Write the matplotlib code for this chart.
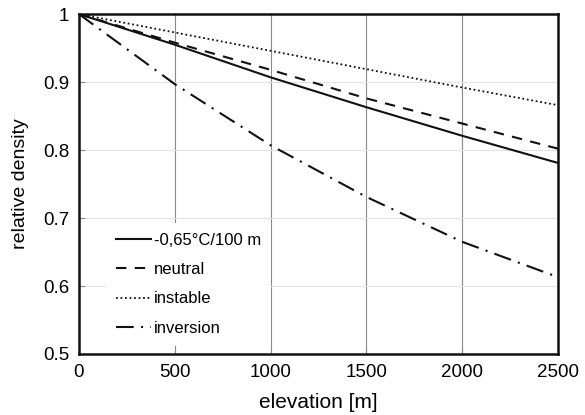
import matplotlib
matplotlib.use("Agg")
import matplotlib.pyplot as plt

plt.rcParams['font.family'] = ['Liberation Sans', 'DejaVu Sans']

# elevation [m]
elevation = [0, 500, 1000, 1500, 2000, 2500]

# relative density per atmosphere type
standard = [1.0, 0.955, 0.907, 0.863, 0.821, 0.781]
neutral = [1.0, 0.958, 0.918, 0.876, 0.839, 0.802]
instable = [1.0, 0.973, 0.946, 0.919, 0.892, 0.866]
inversion = [1.0, 0.897, 0.807, 0.731, 0.665, 0.613]

labels = ['-0,65°C/100 m', 'neutral', 'instable', 'inversion']

fig = plt.figure(figsize=(5.85, 4.15), dpi=100)
ax = fig.add_axes([0.135, 0.147, 0.819, 0.819])

lw = 1.5
ax.plot(elevation, standard, color='#111111', lw=lw, label=labels[0])
ax.plot(elevation, neutral, color='#111111', lw=lw, dashes=(5, 4), label=labels[1])
ax.plot(elevation, instable, color='#111111', lw=1.3, dashes=(1, 1.5), label=labels[2])
ax.plot(elevation, inversion, color='#111111', lw=lw, dashes=(8.5, 3.5, 1, 3.5), label=labels[3])

ax.set_xlim(0, 2500)
ax.set_ylim(0.5, 1.0)
ax.set_xticks([0, 500, 1000, 1500, 2000, 2500])
ax.set_yticks([0.5, 0.6, 0.7, 0.8, 0.9, 1.0])
ax.set_yticklabels(['0.5', '0.6', '0.7', '0.8', '0.9', '1'])

ax.grid(axis='x', color='#888888', lw=0.8)
ax.grid(axis='y', color='#e3e3e3', lw=0.8)
ax.set_axisbelow(True)

for s in ax.spines.values():
    s.set_linewidth(1.8)
    s.set_color('#111111')

ax.tick_params(direction='in', length=4, width=0.8, labelsize=13.5, color='#888888', pad=7)
ax.set_xlabel('elevation [m]', fontsize=15, labelpad=9)
ax.set_ylabel('relative density', fontsize=14, labelpad=10)

leg = ax.legend(loc='lower left', bbox_to_anchor=(0.04, 0.0), fontsize=12,
                frameon=True, fancybox=False, edgecolor='none', facecolor='white',
                framealpha=1, handlelength=2.1, handletextpad=0.15, labelspacing=0.85,
                borderpad=0.6)

fig.savefig('out.png', dpi=100)
